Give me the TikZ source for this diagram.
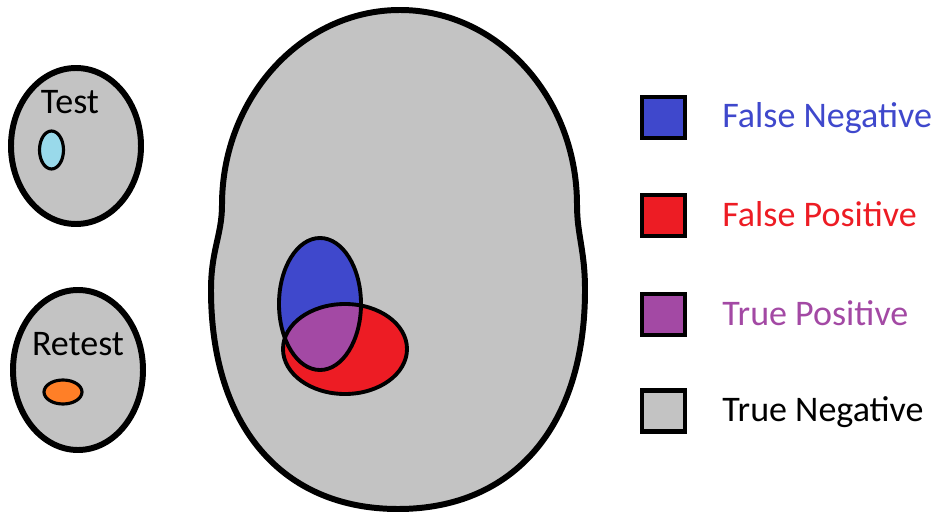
\documentclass[tikz,border=0pt]{standalone}
\usepackage{fontspec}
\setmainfont{Carlito}
\usetikzlibrary{positioning}
\definecolor{cFN}{HTML}{3F48CC}
\definecolor{cFP}{HTML}{ED1C24}
\definecolor{cTP}{HTML}{A349A4}
\definecolor{cTN}{HTML}{C3C3C3}
\definecolor{cTST}{HTML}{99D9EA}
\definecolor{cRET}{HTML}{FF7F27}
\tikzset{
  blob/.style={draw=black, line width=3.4pt, fill=cTN},
  ring/.style={draw=black, line width=2.2pt},
  dot/.style={draw=black, line width=1.8pt},
  keybox/.style={draw=black, line width=2.3pt, minimum width=0.86cm, minimum height=0.82cm, inner sep=0pt},
  keytext/.style={inner sep=0pt, anchor=base west},
}

\begin{document}
\begin{tikzpicture}[x=0.02cm, y=-0.02cm, font=\fontsize{20.5}{24}\selectfont]
\useasboundingbox (0,0) rectangle (939,513);
% sample groups
\draw[blob] (76,146) ellipse [x radius=65, y radius=78];
\draw[dot, fill=cTST] (51.5,150) ellipse [x radius=12, y radius=19];
\node[anchor=base, inner sep=0pt] (test) at (70,114) {Test};
\draw[blob] (78,370) ellipse [x radius=65, y radius=80];
\draw[dot, fill=cRET] (63,392) ellipse [x radius=19, y radius=12];
\node[anchor=base, inner sep=0pt] (retest) at (78,355) {Retest};
% population
\draw[blob] (400,10) .. controls (497.8,10) and (577,97.3) .. (577,205)
  .. controls (577,235) and (585,250) .. (585,290)
  .. controls (585,426) and (514,509) .. (398,509)
  .. controls (282,509) and (211,426) .. (211,290)
  .. controls (211,250) and (222,235) .. (222,205)
  .. controls (222,97.3) and (302.2,10) .. (400,10) -- cycle;
\fill[cFN] (320,304) ellipse [x radius=41, y radius=66];
\fill[cFP] (345,349) ellipse [x radius=62, y radius=45];
\begin{scope}
  \clip (320,304) ellipse [x radius=41, y radius=66];
  \fill[cTP] (345,349) ellipse [x radius=62, y radius=45];
\end{scope}
\draw[ring] (320,304) ellipse [x radius=41, y radius=66];
\draw[ring] (345,349) ellipse [x radius=62, y radius=45];
% legend
\foreach \i/\c/\tc/\y/\t in {1/cFN/cFN/117.5/False Negative, 2/cFP/cFP/215.8/False Positive, 3/cTP/cTP/314.5/True Positive, 4/cTN/black/411/True Negative} {
  \node[keybox, fill=\c] (k\i) at (663.5,\y) {};
  \node[keytext, text=\tc] (t\i) at ([xshift=0.7cm, yshift=-0.21cm]k\i.east) {\t};
}
\end{tikzpicture}
\end{document}
